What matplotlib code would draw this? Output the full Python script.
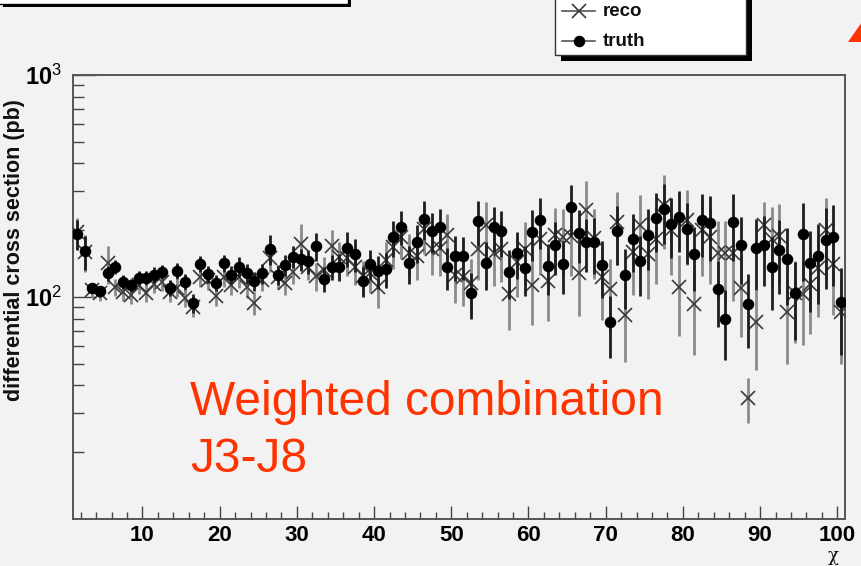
import numpy as np
import matplotlib
matplotlib.use("Agg")
import matplotlib.pyplot as plt
from matplotlib.ticker import FixedLocator, NullFormatter, FixedFormatter, LogLocator
from matplotlib.patches import Rectangle, Polygon
from matplotlib.lines import Line2D

plt.rcParams['font.family'] = ['Liberation Sans', 'DejaVu Sans']
plt.rcParams['mathtext.fontset'] = 'custom'
plt.rcParams['mathtext.rm'] = 'Liberation Sans'
plt.rcParams['mathtext.bf'] = 'Liberation Sans:bold'
plt.rcParams['mathtext.it'] = 'Liberation Sans:italic'

# ---------------- data ----------------
chi = np.arange(1, 101) + 0.5   # bin centres

truth = [192, 161, 110, 106, 128, 137, 117, 113, 122, 122,
         126, 130, 110, 131, 117, 94, 141, 127, 116, 142,
         126, 137, 128, 118, 128, 165, 126, 139, 152, 148,
         145, 170, 121, 137, 137, 166, 156, 118, 141, 131,
         134, 186, 207, 142, 177, 225, 198, 207, 137, 153,
         153, 104, 220, 142, 207, 198, 130, 158, 135, 196,
         222, 138, 172, 141, 254, 194, 177, 177, 139, 77,
         198, 126, 183, 145, 190, 227, 249, 214, 230, 203,
         156, 222, 216, 109, 80, 218, 172, 93, 166, 172,
         137, 163, 148, 104, 192, 142, 153, 181, 186, 95]

truth_err = [30, 28, 6, 6, 10, 10, 8, 8, 9, 9,
             10, 10, 9, 11, 10, 9, 12, 11, 10, 12,
             12, 14, 13, 12, 13, 26, 13, 15, 17, 17,
             18, 25, 16, 18, 19, 30, 26, 18, 22, 22,
             24, 34, 36, 28, 34, 45, 40, 42, 30, 35,
             34, 24, 50, 34, 48, 46, 32, 38, 34, 50,
             58, 36, 46, 38, 66, 52, 48, 50, 40, 24,
             58, 38, 54, 44, 58, 68, 75, 64, 70, 62,
             50, 70, 70, 36, 28, 72, 58, 34, 58, 60,
             50, 60, 56, 40, 74, 56, 60, 72, 74, 40]

reco = [196, 160, 108, 104, 142, 111, 105, 102, 113, 104,
        114, 117, 105, 110, 99, 90, 123, 119, 101, 123,
        113, 123, 111, 94, 119, 150, 123, 116, 130, 173,
        137, 124, 132, 170, 152, 150, 137, 124, 128, 111,
        147, 168, 186, 158, 153, 203, 165, 166, 190, 126,
        123, 116, 165, 211, 158, 165, 103, 144, 165, 113,
        183, 118, 190, 186, 188, 128, 247, 184, 123, 109,
        218, 83, 160, 211, 156, 183, 260, 200, 111, 222,
        93, 200, 186, 158, 158, 158, 110, 35, 77, 211,
        183, 188, 86, 104, 103, 114, 135, 200, 141, 86]

reco_err = [32, 30, 8, 8, 28, 10, 9, 9, 10, 9,
            10, 11, 10, 10, 9, 9, 12, 12, 10, 12,
            11, 13, 12, 11, 13, 20, 14, 14, 16, 40,
            18, 18, 20, 30, 24, 26, 24, 22, 24, 22,
            30, 34, 38, 34, 34, 46, 40, 42, 46, 32,
            32, 32, 46, 58, 46, 48, 32, 44, 52, 38,
            58, 40, 62, 62, 64, 46, 85, 64, 44, 40,
            78, 32, 58, 78, 58, 68, 95, 74, 44, 82,
            38, 76, 72, 62, 62, 62, 44, 8, 30, 58,
            72, 74, 36, 42, 42, 46, 54, 80, 58, 36]

x_ticks = [10, 20, 30, 40, 50, 60, 70, 80, 90, 100]
x_tick_labels = ['10', '20', '30', '40', '50', '60', '70', '80', '90', '100']
y_ticks = [100, 1000]
y_tick_labels = [r'$\mathbf{10}^{2}$', r'$\mathbf{10}^{3}$']
legend_labels = ['reco', 'truth']
y_title = 'differential cross section (pb)'
x_title = 'χ'
note_lines = ['Weighted combination', 'J3-J8']

# ---------------- figure ----------------
W, H = 862, 566
BG = '#f2f2f2'
RED = '#ff3300'
fig = plt.figure(figsize=(W / 100, H / 100), dpi=100, facecolor=BG)


def fp(x, y):
    return (x / W, 1 - y / H)


ax = fig.add_axes([73 / W, 1 - 519 / H, (845 - 73) / W, (519 - 75) / H])
ax.set_facecolor(BG)
ax.set_yscale('log')
ax.set_xlim(1, 101)
ax.set_ylim(10, 1000)

ax.errorbar(chi, reco, yerr=reco_err, fmt='x', ms=10, mew=1.2,
            color='#3a3a3a', ecolor='#8a8a8a', elinewidth=2.0, capsize=0, zorder=3)
ax.errorbar(chi, truth, yerr=truth_err, fmt='o', ms=8.3, mew=0,
            color='#000000', ecolor='#1e1e1e', elinewidth=2.0, capsize=0, zorder=4)

for s in ax.spines.values():
    s.set_color('#555555')
    s.set_linewidth(1.4)

ax.xaxis.set_major_locator(FixedLocator(x_ticks))
ax.xaxis.set_major_formatter(FixedFormatter(x_tick_labels))
ax.xaxis.set_minor_locator(FixedLocator(list(range(2, 101, 2))))
ax.yaxis.set_major_locator(FixedLocator(y_ticks))
ax.yaxis.set_major_formatter(FixedFormatter(y_tick_labels))
ax.yaxis.set_minor_locator(LogLocator(base=10, subs=range(2, 10)))
ax.yaxis.set_minor_formatter(NullFormatter())

ax.tick_params(axis='x', which='major', direction='in', length=9.5, width=1.0,
               color='#444444', top=False, pad=4, labelsize=16)
ax.tick_params(axis='x', which='minor', direction='in', length=5, width=1.0,
               color='#444444', top=False)
ax.tick_params(axis='y', which='major', direction='in', length=16.5, width=1.0,
               color='#444444', right=False, pad=8, labelsize=17)
ax.tick_params(axis='y', which='minor', direction='in', length=8, width=1.0,
               color='#444444', right=False)
for lbl in ax.get_xticklabels():
    lbl.set_fontweight('bold')

# axis titles
fig.text(15 / W, 1 - 250 / H, y_title, rotation=90, ha='center', va='center',
         fontsize=15.5, fontweight='bold', color='#111111')
fig.text(833 / W, 1 - 556 / H, x_title, ha='center', va='center',
         fontsize=13, family=['DejaVu Serif'], color='#111111')

# red annotation
fig.text(190 / W, 1 - 415 / H, note_lines[0], ha='left', va='baseline',
         fontsize=34.5, color=RED)
fig.text(190 / W, 1 - 472 / H, note_lines[1], ha='left', va='baseline',
         fontsize=34.5, color=RED)

# top-left title box (cut off)
fig.patches.append(Rectangle(fp(3, 7), 348 / W, 30 / H, transform=fig.transFigure,
                             facecolor='black', edgecolor='none', zorder=1))
fig.patches.append(Rectangle(fp(-2, 4), 350 / W, 30 / H, transform=fig.transFigure,
                             facecolor='white', edgecolor='black', lw=1, zorder=2))

# legend box
fig.patches.append(Rectangle(fp(561, 61), 191 / W, 80 / H, transform=fig.transFigure,
                             facecolor='black', edgecolor='none', zorder=5))
fig.patches.append(Rectangle(fp(555, 55), 191 / W, 80 / H, transform=fig.transFigure,
                             facecolor='white', edgecolor='#333333', lw=1, zorder=6))
leg_y = [11, 41]
leg_styles = [dict(marker='x', ms=10, mew=1.2, color='#3a3a3a'),
              dict(marker='o', ms=8.3, mew=0, color='black')]
for yy, lab, st in zip(leg_y, legend_labels, leg_styles):
    x0, y0 = fp(562, yy)
    x1, _ = fp(595, yy)
    fig.lines.append(Line2D([x0, x1], [y0, y0], transform=fig.transFigure,
                            color='#555555', lw=1.2, zorder=7))
    fig.lines.append(Line2D([(x0 + x1) / 2], [y0], transform=fig.transFigure,
                            linestyle='none', zorder=8, **st))
    fig.text(603 / W, y0, lab, ha='left', va='center', fontsize=13.5,
             fontweight='bold', color='#111111', zorder=8)

# red arrow tip at the right edge
fig.patches.append(Polygon([fp(848, 42), fp(862, 42), fp(862, 22)], closed=True,
                           transform=fig.transFigure, facecolor=RED, edgecolor='none'))

fig.savefig('out.png', dpi=100, facecolor=BG)
